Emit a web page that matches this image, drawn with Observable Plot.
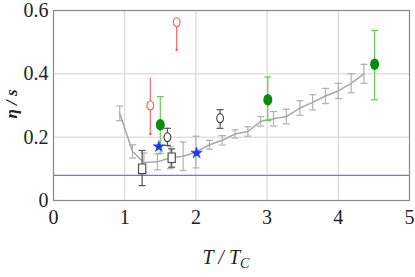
<!DOCTYPE html>
<html><head><meta charset="utf-8">
<script src="https://cdn.jsdelivr.net/npm/d3@7"></script>
<script src="https://cdn.jsdelivr.net/npm/@observablehq/plot@0.6"></script>
<style>
body{margin:0;background:#fff;}
#chart svg, #chart svg text { font-family: "Liberation Serif", "Times New Roman", "DejaVu Serif", serif !important; }
</style>
</head><body><div id="chart"></div>
<script>
// Lattice-like gray curve
const latticeT   = [0.93,1.11,1.27,1.46,1.64,1.82,2.00,2.19,2.37,2.55,2.73,2.91,3.09,3.27,3.46,3.64,3.82,4.00,4.18,4.36];
const latticeEta = [0.275,0.155,0.12,0.122,0.135,0.14,0.153,0.176,0.19,0.21,0.218,0.25,0.258,0.265,0.292,0.31,0.33,0.346,0.37,0.40];
const latticeErr = [0.023,0.021,0.03,0.025,0.035,0.045,0.05,0.014,0.015,0.013,0.015,0.015,0.023,0.023,0.023,0.024,0.024,0.024,0.03,0.03];
// Red open circles
const redT = [1.36, 1.73];
const redEta = [0.30, 0.563];
const redLo = [0.21, 0.476];
const redHi = [0.387, 0.563];
// Green filled circles
const greenT = [1.50, 3.01, 4.51];
const greenEta = [0.239, 0.318, 0.43];
const greenLo = [0.149, 0.253, 0.318];
const greenHi = [0.328, 0.39, 0.537];
// Black open circles
const blackCircT = [1.60, 2.34];
const blackCircEta = [0.20, 0.26];
const blackCircLo = [0.174, 0.228];
const blackCircHi = [0.228, 0.287];
// Black open squares
const squareT = [1.245, 1.66];
const squareEta = [0.10, 0.135];
const squareLo = [0.047, 0.105];
const squareHi = [0.158, 0.163];
// Blue stars
const starT = [1.48, 2.01];
const starEta = [0.17, 0.15];
// KSS bound
const kss = [1 / (4 * Math.PI)];
const xTicks = [0, 1, 2, 3, 4, 5];
const yTicks = [0, 0.2, 0.4, 0.6];

const lattice = latticeT.map((t, i) => ({t, v: latticeEta[i], lo: latticeEta[i] - latticeErr[i], hi: latticeEta[i] + latticeErr[i]}));
const mk = (T, V, L, H) => T.map((t, i) => ({t, v: V[i], lo: L ? L[i] : null, hi: H ? H[i] : null}));
const red = mk(redT, redEta, redLo, redHi);
const green = mk(greenT, greenEta, greenLo, greenHi);
const blackC = mk(blackCircT, blackCircEta, blackCircLo, blackCircHi);
const squares = mk(squareT, squareEta, squareLo, squareHi);
const stars = mk(starT, starEta);

const cap = {draw(ctx, size) { const r = Math.sqrt(size / Math.PI); ctx.moveTo(-r, 0); ctx.lineTo(r, 0); }};
const ellipse = {draw(ctx, size) {
  const r = Math.sqrt(size / Math.PI); const a = r * 0.75, b = r, k = 0.5523;
  ctx.moveTo(0, -b);
  ctx.bezierCurveTo(a * k, -b, a, -b * k, a, 0);
  ctx.bezierCurveTo(a, b * k, a * k, b, 0, b);
  ctx.bezierCurveTo(-a * k, b, -a, b * k, -a, 0);
  ctx.bezierCurveTo(-a, -b * k, -a * k, -b, 0, -b);
  ctx.closePath();
}};
const tallRect = {draw(ctx, size) { const r = Math.sqrt(size / Math.PI); ctx.rect(-r * 0.75, -r, r * 1.5, r * 2); }};

function errorBars(data, color, capR, width) {
  return [
    Plot.ruleX(data, {x: "t", y1: "lo", y2: "hi", stroke: color, strokeWidth: width}),
    Plot.dot(data, {x: "t", y: "lo", symbol: cap, r: capR, stroke: color, strokeWidth: width}),
    Plot.dot(data, {x: "t", y: "hi", symbol: cap, r: capR, stroke: color, strokeWidth: width})
  ];
}

const chart = Plot.plot({
  width: 415, height: 277,
  marginLeft: 53, marginRight: 6, marginTop: 10, marginBottom: 77,
  style: {fontFamily: "'Liberation Serif', 'Times New Roman', serif", background: "#fff"},
  x: {domain: [0, 5]},
  y: {domain: [0, 0.6]},
  marks: [
    Plot.gridX([1, 2, 3, 4], {stroke: "#d2d2d2", strokeOpacity: 1}),
    Plot.gridY([0.2, 0.4], {stroke: "#d2d2d2", strokeOpacity: 1}),
    Plot.ruleY(kss, {stroke: "#7777c8", strokeWidth: 1.2}),
    Plot.axisX(xTicks, {tickSize: 0, tickPadding: 9, fontSize: 20, fill: "#222", label: null, tickFormat: d => String(d)}),
    Plot.axisY(yTicks, {tickSize: 0, tickPadding: 5, fontSize: 20, fill: "#222", label: null, tickFormat: d => d === 0 ? "0" : d3.format(".1f")(d)}),
    ...errorBars(lattice, "#b0b0b0", 3.5, 1.2),
    Plot.line(lattice, {x: "t", y: "v", stroke: "#a8a8a8", strokeWidth: 1.5}),
    Plot.ruleX(red, {x: "t", y1: "lo", y2: "hi", stroke: "#ff7070", strokeWidth: 1.3}),
    Plot.dot(red.filter(d => d.lo !== d.v), {x: "t", y: "lo", r: 1.2, fill: "#ff5050"}),
    Plot.dot(red, {x: "t", y: "v", symbol: ellipse, r: 4.5, stroke: "#ff5a5a", fill: "#fff", strokeWidth: 1.1}),
    ...errorBars(green, "#66cc55", 3.5, 1.2),
    Plot.dot(green, {x: "t", y: "v", symbol: ellipse, r: 5, fill: "#0a8c0a", stroke: "#0a8c0a"}),
    ...errorBars(blackC, "#555", 3.5, 1.2),
    Plot.dot(blackC, {x: "t", y: "v", symbol: ellipse, r: 4.5, stroke: "#444", fill: "#fff", strokeWidth: 1.1}),
    ...errorBars(squares, "#555", 3.5, 1.2),
    Plot.dot(squares, {x: "t", y: "v", symbol: tallRect, r: 4.8, stroke: "#444", fill: "#fff", strokeWidth: 1.1}),
    Plot.dot(stars, {x: "t", y: "v", symbol: "star", r: 3.6, fill: "#1a35ff", stroke: "#1a35ff", strokeWidth: 0.5}),
    Plot.frame({stroke: "#888", strokeWidth: 1.2})
  ]
});

const svg = d3.select(chart);
svg.append("text")
  .attr("transform", "translate(17,104) rotate(-90)")
  .attr("text-anchor", "middle")
  .attr("font-size", 17).attr("font-style", "italic").attr("font-weight", "bold")
  .attr("fill", "#222")
  .text("η / s");
const xl = svg.append("text")
  .attr("x", 226).attr("y", 264)
  .attr("text-anchor", "middle")
  .attr("font-size", 20).attr("font-style", "italic")
  .attr("fill", "#222");
xl.append("tspan").text("T / T");
xl.append("tspan").attr("font-size", 14).attr("dy", 4).text("C");
document.getElementById("chart").appendChild(chart);
</script>
</body></html>
